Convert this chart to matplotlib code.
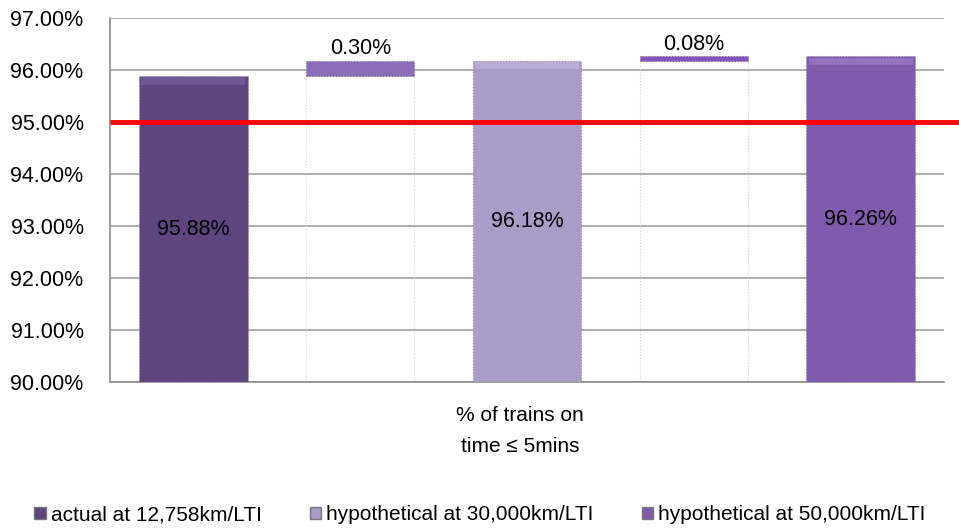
import numpy as np
import matplotlib.pyplot as plt
from matplotlib.patches import Patch

# values (in %)
actual = 95.88
hyp_30k = 96.18
hyp_50k = 96.26
gain_30k = hyp_30k - actual   # 0.30
gain_50k = hyp_50k - hyp_30k  # 0.08
target = 95.0

series_names = ['actual at 12,758km/LTI', 'hypothetical at 30,000km/LTI',
                'hypothetical at 50,000km/LTI']
colors = ['#5e4580', '#ab9bc8', '#7f5aad']
top_colors = ['#6f5894', '#baabd6', '#9272c0']
gain_colors = ['#8a6cb8', '#8552be']
yticks = [90, 91, 92, 93, 94, 95, 96, 97]

plt.rcParams['font.family'] = ['Liberation Sans', 'DejaVu Sans']

fig = plt.figure(figsize=(9.59, 5.31), dpi=100)
ax = fig.add_axes([110/959, 1-382/531, 834/959, 364/531])

ymin = 90
w = 0.65

# full bars
main_vals = [actual, hyp_30k, hyp_50k]
main_pos = [0, 2, 4]
for p, v, c, tc in zip(main_pos, main_vals, colors, top_colors):
    ax.bar(p, v - ymin, bottom=ymin, width=w, color=c, edgecolor='#8a8a8a',
           linewidth=0.8, linestyle=':', zorder=3)
    # lighter bevel along the top edge
    ax.bar(p, 0.14, bottom=v - 0.16, width=w * 0.96, color=tc, linewidth=0, zorder=3.5)
    ax.text(p, (ymin + v) / 2, f'{v:.2f}%', ha='center', va='center',
            fontsize=15.5, zorder=5)

# floating increments with their hidden base
bases = [actual, hyp_30k]
gains = [gain_30k, gain_50k]
for p, b, g, c in zip([1, 3], bases, gains, gain_colors):
    ax.bar(p, b - ymin, bottom=ymin, width=w, color='none', edgecolor='#d0d0d0',
           linewidth=0.8, linestyle=':', zorder=2)
    ax.bar(p, g, bottom=b, width=w, color=c, edgecolor='#777777',
           linewidth=0.8, linestyle=':', zorder=3)
    ax.text(p, b + g + 0.03, f'{g:.2f}%', ha='center', va='bottom',
            fontsize=15.5, zorder=5)

# target line
ax.plot([-0.5, 5.0], [target, target], color='#ff0000', linewidth=3.5,
        zorder=4, clip_on=False, solid_capstyle='butt')

ax.set_xlim(-0.5, 4.5)
ax.set_ylim(ymin, 97)
ax.set_yticks(yticks)
ax.set_yticklabels([f'{t:.2f}%' for t in yticks], fontsize=15.5)
ax.set_xticks([])
ax.yaxis.grid(True, color='#a0a0a0', linewidth=1.2)
ax.set_axisbelow(True)
for s in ['top', 'right']:
    ax.spines[s].set_visible(False)
for s in ['left', 'bottom']:
    ax.spines[s].set_color('#8c8c8c')
    ax.spines[s].set_linewidth(1.2)
ax.tick_params(axis='y', length=0, pad=19)

fig.text(520/959, 1-431/531, '% of trains on\ntime \u2264 5mins', ha='center',
         va='center', fontsize=15, linespacing=1.75)

handles = [Patch(facecolor=c, edgecolor='#777777') for c in colors]
fig.legend(handles, series_names, loc='center', bbox_to_anchor=(480/959, 1-515/531),
           ncol=3, frameon=False, fontsize=15, handlelength=0.55, handleheight=0.55,
           handletextpad=0.25, columnspacing=2.3)

fig.savefig('out.png', dpi=100)
